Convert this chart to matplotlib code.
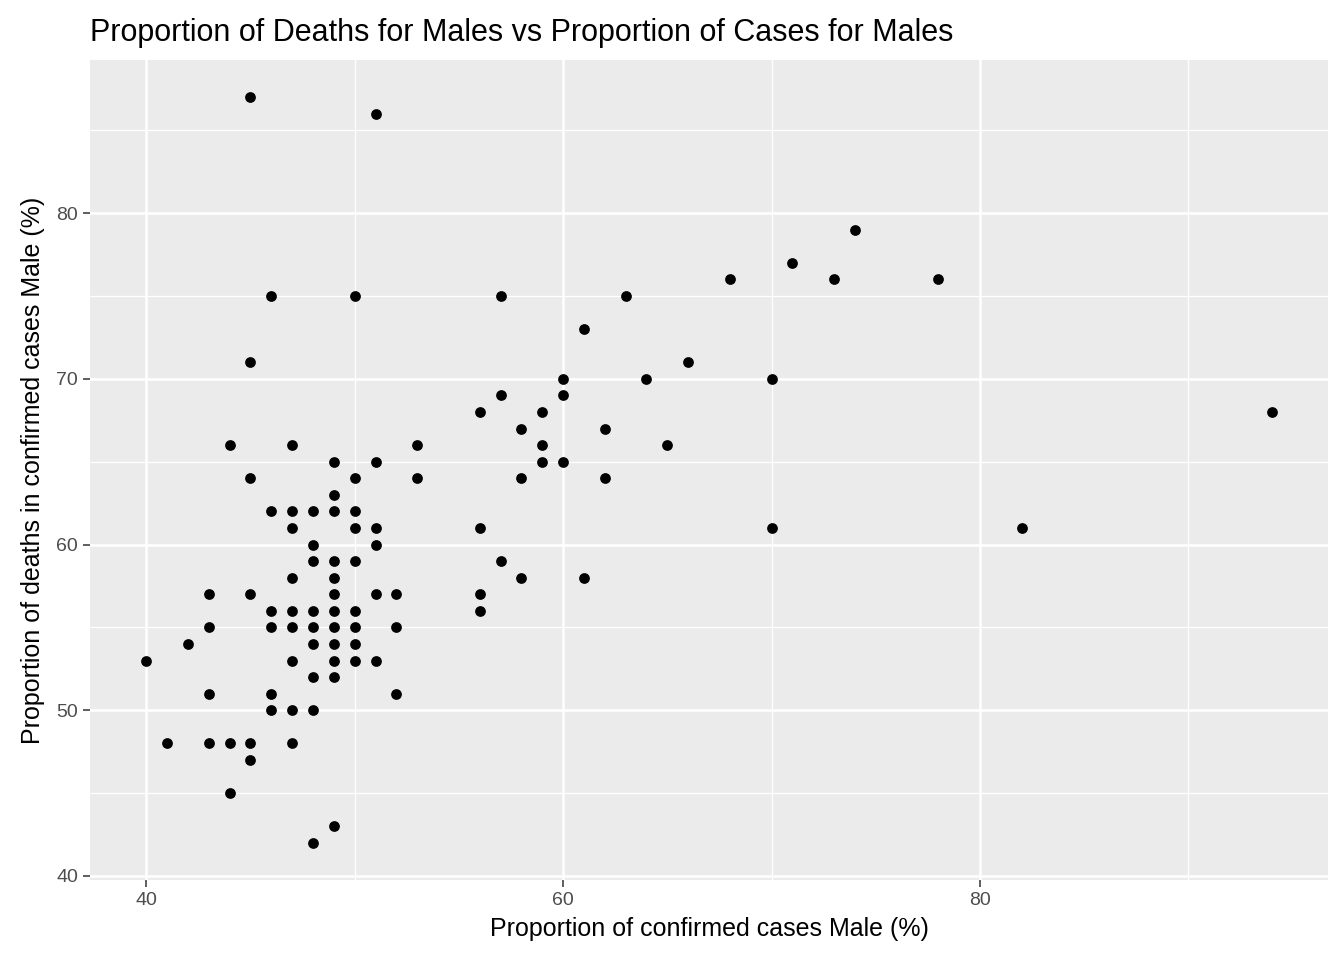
import matplotlib
matplotlib.use("Agg")
import matplotlib.pyplot as plt
from matplotlib.ticker import MultipleLocator

cases_male = [44,47,53,59,58, 49,51,59, 45,50,53,58, 49, 46,47,48,49,50, 47,50,51,56,
              48,51, 48,49,50,57, 47,49,58, 43,45,49,51,52,56, 46,47,48,49,50,56,
              43,46,47,48,49,50,52, 42,48,49,50, 40,47,49,50,51, 48,49, 43,46,52,
              46,47,48, 41,43,44,45,47, 45, 44, 49, 48,
              45,51,74,71,68,73,78,46,50,57,63,61,45,66,60,64,70,57,60,56,59,94,
              62,65,60,62,70,82,61]
deaths_male = [66,66,66,66,67, 65,65,65, 64,64,64,64, 63, 62,62,62,62,62, 61,61,61,61,
               60,60, 59,59,59,59, 58,58,58, 57,57,57,57,57,57, 56,56,56,56,56,56,
               55,55,55,55,55,55,55, 54,54,54,54, 53,53,53,53,53, 52,52, 51,51,51,
               50,50,50, 48,48,48,48,48, 47, 45, 43, 42,
               87,86,79,77,76,76,76,75,75,75,75,73,71,71,70,70,70,69,69,68,68,68,
               67,66,65,64,61,61,58]
x_ticks = [40, 60, 80]
y_ticks = [40, 50, 60, 70, 80]

plt.rcParams['font.family'] = ['Liberation Sans', 'DejaVu Sans']
fig = plt.figure(figsize=(13.44, 9.6), dpi=100)
ax = fig.add_axes([90/1344, 1-880/960, (1328-90)/1344, (880-60)/960])
ax.set_facecolor('#EBEBEB')
ax.scatter(cases_male, deaths_male, s=60, color='black', zorder=3, linewidths=0)
ax.set_xlim(37.3, 96.7)
ax.set_ylim(39.75, 89.25)
ax.set_xticks(x_ticks)
ax.set_yticks(y_ticks)
ax.xaxis.set_minor_locator(MultipleLocator(10))
ax.yaxis.set_minor_locator(MultipleLocator(5))
ax.grid(which='major', color='white', linewidth=1.8)
ax.grid(which='minor', color='white', linewidth=0.9)
ax.set_axisbelow(True)
for s in ax.spines.values():
    s.set_visible(False)
ax.tick_params(which='major', length=5, color='#333333', labelsize=14, labelcolor='#4D4D4D', width=1.1)
ax.tick_params(which='minor', length=0)
ax.set_xlabel('Proportion of confirmed cases Male (%)', fontsize=18, labelpad=6)
ax.set_ylabel('Proportion of deaths in confirmed cases Male (%)', fontsize=18, labelpad=8)
ax.set_title('Proportion of Deaths for Males vs Proportion of Cases for Males', fontsize=22, loc='left', pad=14)
fig.savefig('out.png', dpi=100)
